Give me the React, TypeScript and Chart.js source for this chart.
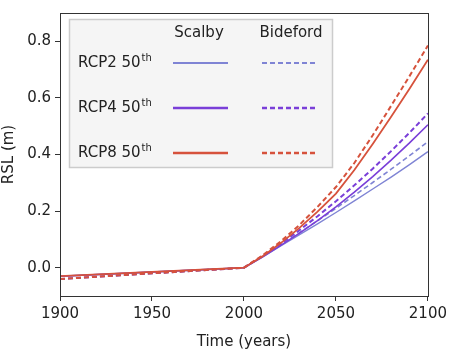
import React, { useEffect, useRef } from "react";
import { Chart, registerables } from "chart.js";

Chart.register(...registerables);

const years = [1900, 2000, 2010, 2020, 2030, 2040, 2050, 2060, 2070, 2080, 2090, 2100];
const scalbyRcp2 = [-0.03, 0, 0.037, 0.077, 0.116, 0.155, 0.195, 0.236, 0.278, 0.32, 0.364, 0.41];
const bidefordRcp2 = [-0.04, 0, 0.04, 0.081, 0.123, 0.166, 0.21, 0.255, 0.301, 0.348, 0.396, 0.445];
const scalbyRcp4 = [-0.03, 0, 0.038, 0.079, 0.121, 0.166, 0.215, 0.267, 0.322, 0.38, 0.441, 0.505];
const bidefordRcp4 = [-0.04, 0, 0.041, 0.085, 0.132, 0.182, 0.235, 0.291, 0.35, 0.412, 0.477, 0.545];
const scalbyRcp8 = [-0.03, 0, 0.04, 0.087, 0.14, 0.198, 0.262, 0.345, 0.437, 0.533, 0.632, 0.735];
const bidefordRcp8 = [-0.04, 0, 0.043, 0.093, 0.15, 0.215, 0.285, 0.37, 0.468, 0.572, 0.677, 0.785];

const yTicks = [0, 0.2, 0.4, 0.6, 0.8];
const xTicks = [1900, 1950, 2000, 2050, 2100];
const sites = ["Scalby", "Bideford"];
const scenarios = ["RCP2", "RCP4", "RCP8"];

const C2 = "#7f84d4";
const C4 = "#7a3fd8";
const C8 = "#d6523c";
const FONT = "'DejaVu Sans', sans-serif";

const toPts = (arr: number[]) => arr.map((y, i) => ({ x: years[i], y }));

const framePlugin = {
  id: "frame",
  afterDraw(chart: any) {
    const { ctx, chartArea: a } = chart;
    ctx.save();
    ctx.strokeStyle = "#333";
    ctx.lineWidth = 1;
    ctx.strokeRect(Math.round(a.left) + 0.5, Math.round(a.top) + 0.5, Math.round(a.right - a.left), Math.round(a.bottom - a.top));

    // legend
    const bx = 69, by = 19, bw = 263, bh = 148;
    ctx.fillStyle = "rgba(244,244,244,0.95)";
    ctx.fillRect(bx, by, bw, bh);
    ctx.strokeStyle = "#cccccc";
    ctx.lineWidth = 1.5;
    ctx.strokeRect(bx + 0.5, by + 0.5, bw, bh);

    ctx.fillStyle = "#222";
    ctx.textBaseline = "middle";
    ctx.textAlign = "center";
    ctx.font = `15px ${FONT}`;
    ctx.fillText(sites[0], 199, 33);
    ctx.fillText(sites[1], 291, 33);

    const rows = [63, 108, 153];
    const cols = [C2, C4, C8];
    const widths = [1.8, 2.6, 2.6];
    rows.forEach((ry, i) => {
      ctx.textAlign = "left";
      ctx.fillStyle = "#222";
      ctx.font = `15px ${FONT}`;
      const lbl = scenarios[i] + " 50";
      ctx.fillText(lbl, 78, ry);
      const w = ctx.measureText(lbl).width;
      ctx.font = `10px ${FONT}`;
      ctx.fillText("th", 78 + w + 1, ry - 5);

      ctx.strokeStyle = cols[i];
      ctx.lineWidth = widths[i];
      ctx.setLineDash([]);
      ctx.beginPath();
      ctx.moveTo(173, ry);
      ctx.lineTo(228, ry);
      ctx.stroke();
      ctx.setLineDash([5, 3]);
      ctx.beginPath();
      ctx.moveTo(262, ry);
      ctx.lineTo(317, ry);
      ctx.stroke();
    });
    ctx.restore();
  },
};

export default function App() {
  const ref = useRef<HTMLCanvasElement>(null);
  useEffect(() => {
    if (!ref.current) return;
    const mk = (label: string, data: number[], color: string, dashed: boolean, width: number, order: number) => ({
      label,
      data: toPts(data),
      borderColor: color,
      backgroundColor: color,
      borderWidth: width,
      borderDash: dashed ? [5, 3] : [],
      pointRadius: 0,
      fill: false,
      tension: 0,
      order,
    });
    const chart = new Chart(ref.current, {
      type: "line",
      data: {
        datasets: [
          mk("RCP8 Bideford", bidefordRcp8, C8, true, 2, 0),
          mk("RCP8 Scalby", scalbyRcp8, C8, false, 1.8, 1),
          mk("RCP4 Bideford", bidefordRcp4, C4, true, 2, 2),
          mk("RCP4 Scalby", scalbyRcp4, C4, false, 1.6, 3),
          mk("RCP2 Bideford", bidefordRcp2, C2, true, 1.6, 4),
          mk("RCP2 Scalby", scalbyRcp2, C2, false, 1.4, 5),
        ],
      },
      options: {
        animation: false,
        responsive: false,
        maintainAspectRatio: false,
        layout: { padding: { left: 0, right: 22, top: 9, bottom: 0 } },
        plugins: { legend: { display: false }, tooltip: { enabled: false } },
        scales: {
          x: {
            type: "linear",
            min: 1900,
            max: 2100,
            afterBuildTicks: (s: any) => {
              s.ticks = xTicks.map((v) => ({ value: v }));
            },
            afterFit: (s: any) => {
              s.height = 55;
            },
            grid: { display: true, drawOnChartArea: false, drawTicks: true, tickLength: 5, color: "#333", tickColor: "#333" },
            border: { display: true, color: "#333" },
            ticks: { color: "#222", font: { family: FONT, size: 15 }, padding: 4, maxRotation: 0, callback: (v: any) => String(v) },
            title: { display: true, text: "Time (years)", color: "#222", font: { family: FONT, size: 15 }, padding: { top: 0, bottom: 0 } },
          },
          y: {
            type: "linear",
            min: -0.1,
            max: 0.9,
            afterBuildTicks: (s: any) => {
              s.ticks = yTicks.map((v) => ({ value: v }));
            },
            afterFit: (s: any) => {
              s.width = 60;
            },
            grid: { display: true, drawOnChartArea: false, drawTicks: true, tickLength: 5, color: "#333", tickColor: "#333" },
            border: { display: true, color: "#333" },
            ticks: { color: "#222", font: { family: FONT, size: 15 }, padding: 4, callback: (v: any) => Number(v).toFixed(1) },
            title: { display: true, text: "RSL (m)", color: "#222", font: { family: FONT, size: 15 }, padding: { top: 0, bottom: 2 } },
          },
        },
      },
      plugins: [framePlugin],
    } as any);
    return () => chart.destroy();
  }, []);
  return (
    <div style={{ position: "fixed", left: 0, top: 0, width: 451, height: 351, background: "#fff" }}>
      <canvas ref={ref} width={451} height={351} style={{ width: 451, height: 351, display: "block" }} />
    </div>
  );
}
